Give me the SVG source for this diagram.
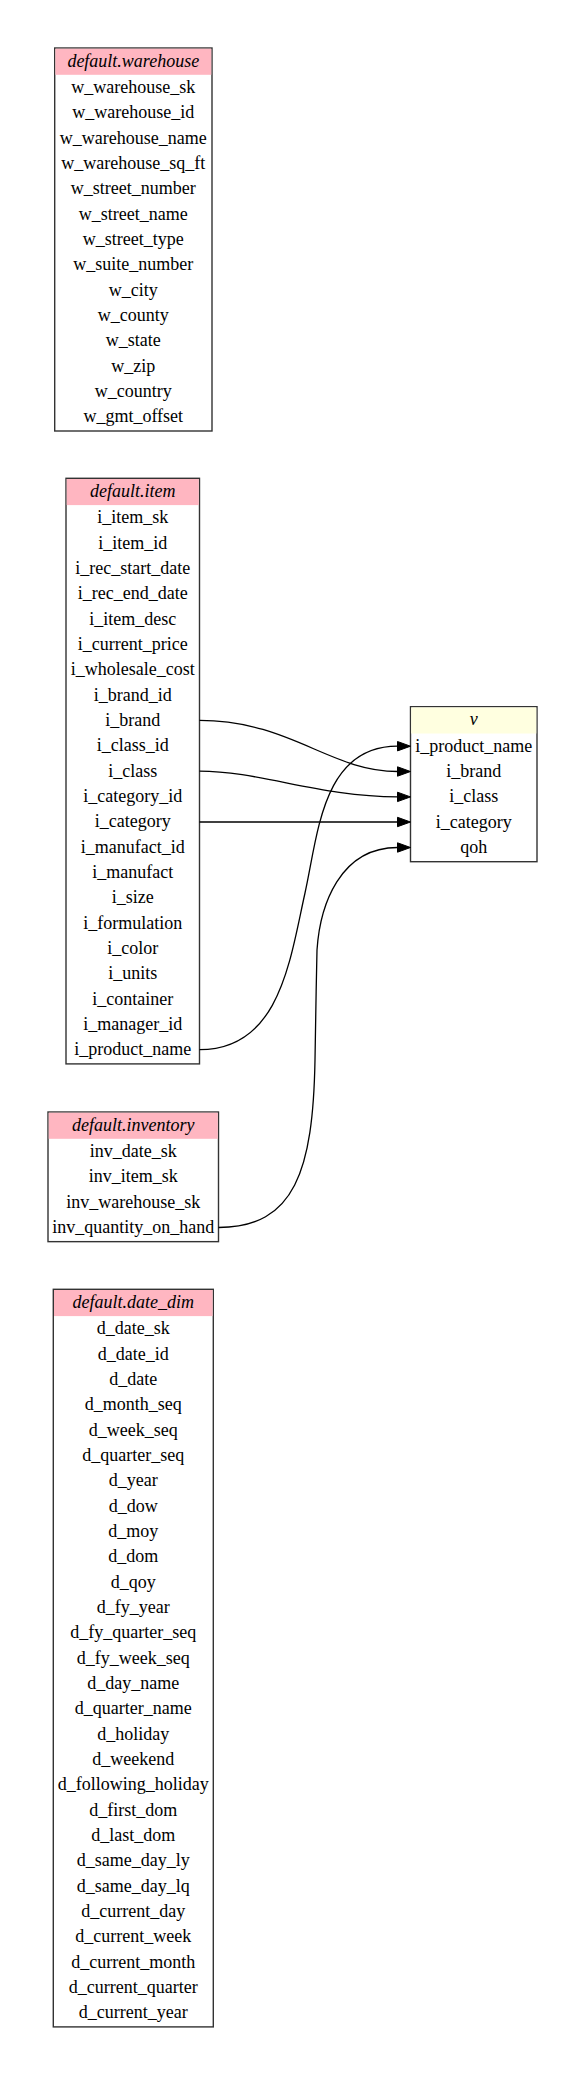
<svg xmlns="http://www.w3.org/2000/svg" width="585" height="2075" viewBox="0 0 585 2075">
<style>
.box{fill:#fff;stroke:#333;stroke-width:1.4}
.hp{fill:#ffb6c1}
.hy{fill:#ffffe0}
text{font-family:"Liberation Serif","Times New Roman",serif;font-size:18px;fill:#000;text-anchor:middle}
.t{font-style:italic}
.edge{fill:none;stroke:#000;stroke-width:1.3;marker-end:url(#ah)}
</style>
<defs>
<marker id="ah" markerUnits="userSpaceOnUse" markerWidth="14" markerHeight="11" refX="0" refY="5" orient="auto" overflow="visible">
<path d="M0,0.3 L13,5 L0,9.7 Z" fill="#000" stroke="#000" stroke-width="1"/>
</marker>
</defs>
<rect width="585" height="2075" fill="#fff"/>

<g id="warehouse">
<rect class="box" x="54.7" y="48" width="157.3" height="383"/>
<rect class="hp" x="55.4" y="48.7" width="155.9" height="26.1"/>
<text class="t" x="133.3" y="66.7">default.warehouse</text>
<text x="133.3" y="93">w_warehouse_sk</text>
<text x="133.3" y="118.3">w_warehouse_id</text>
<text x="133.3" y="143.7">w_warehouse_name</text>
<text x="133.3" y="169">w_warehouse_sq_ft</text>
<text x="133.3" y="194.3">w_street_number</text>
<text x="133.3" y="219.7">w_street_name</text>
<text x="133.3" y="245">w_street_type</text>
<text x="133.3" y="270.3">w_suite_number</text>
<text x="133.3" y="295.6">w_city</text>
<text x="133.3" y="321">w_county</text>
<text x="133.3" y="346.3">w_state</text>
<text x="133.3" y="371.6">w_zip</text>
<text x="133.3" y="397">w_country</text>
<text x="133.3" y="422.3">w_gmt_offset</text>
</g>

<g id="item">
<rect class="box" x="66" y="478.3" width="133.5" height="585.6"/>
<rect class="hp" x="66.7" y="479" width="132.1" height="26.1"/>
<text class="t" x="132.75" y="497">default.item</text>
<text x="132.75" y="523.3">i_item_sk</text>
<text x="132.75" y="548.6">i_item_id</text>
<text x="132.75" y="574">i_rec_start_date</text>
<text x="132.75" y="599.3">i_rec_end_date</text>
<text x="132.75" y="624.6">i_item_desc</text>
<text x="132.75" y="650">i_current_price</text>
<text x="132.75" y="675.3">i_wholesale_cost</text>
<text x="132.75" y="700.6">i_brand_id</text>
<text x="132.75" y="725.9">i_brand</text>
<text x="132.75" y="751.3">i_class_id</text>
<text x="132.75" y="776.6">i_class</text>
<text x="132.75" y="801.9">i_category_id</text>
<text x="132.75" y="827.3">i_category</text>
<text x="132.75" y="852.6">i_manufact_id</text>
<text x="132.75" y="877.9">i_manufact</text>
<text x="132.75" y="903.3">i_size</text>
<text x="132.75" y="928.6">i_formulation</text>
<text x="132.75" y="953.9">i_color</text>
<text x="132.75" y="979.2">i_units</text>
<text x="132.75" y="1004.6">i_container</text>
<text x="132.75" y="1029.9">i_manager_id</text>
<text x="132.75" y="1055.2">i_product_name</text>
</g>

<g id="v">
<rect class="box" x="410.5" y="706.7" width="126.5" height="155"/>
<rect class="hy" x="411.2" y="707.4" width="125.1" height="26.1"/>
<text class="t" x="473.75" y="725.4">v</text>
<text x="473.75" y="751.7">i_product_name</text>
<text x="473.75" y="777">i_brand</text>
<text x="473.75" y="802.4">i_class</text>
<text x="473.75" y="827.7">i_category</text>
<text x="473.75" y="853">qoh</text>
</g>

<g id="inventory">
<rect class="box" x="48" y="1112" width="170.5" height="129.65"/>
<rect class="hp" x="48.7" y="1112.7" width="169.1" height="26.1"/>
<text class="t" x="133.25" y="1130.7">default.inventory</text>
<text x="133.25" y="1157">inv_date_sk</text>
<text x="133.25" y="1182.3">inv_item_sk</text>
<text x="133.25" y="1207.7">inv_warehouse_sk</text>
<text x="133.25" y="1233">inv_quantity_on_hand</text>
</g>

<g id="date_dim">
<rect class="box" x="53.3" y="1289.3" width="160" height="737.6"/>
<rect class="hp" x="54" y="1290" width="158.6" height="26.1"/>
<text class="t" x="133.3" y="1308">default.date_dim</text>
<text x="133.3" y="1334.3">d_date_sk</text>
<text x="133.3" y="1359.6">d_date_id</text>
<text x="133.3" y="1385">d_date</text>
<text x="133.3" y="1410.3">d_month_seq</text>
<text x="133.3" y="1435.6">d_week_seq</text>
<text x="133.3" y="1461">d_quarter_seq</text>
<text x="133.3" y="1486.3">d_year</text>
<text x="133.3" y="1511.6">d_dow</text>
<text x="133.3" y="1536.9">d_moy</text>
<text x="133.3" y="1562.3">d_dom</text>
<text x="133.3" y="1587.6">d_qoy</text>
<text x="133.3" y="1612.9">d_fy_year</text>
<text x="133.3" y="1638.3">d_fy_quarter_seq</text>
<text x="133.3" y="1663.6">d_fy_week_seq</text>
<text x="133.3" y="1688.9">d_day_name</text>
<text x="133.3" y="1714.3">d_quarter_name</text>
<text x="133.3" y="1739.6">d_holiday</text>
<text x="133.3" y="1764.9">d_weekend</text>
<text x="133.3" y="1790.2">d_following_holiday</text>
<text x="133.3" y="1815.6">d_first_dom</text>
<text x="133.3" y="1840.9">d_last_dom</text>
<text x="133.3" y="1866.2">d_same_day_ly</text>
<text x="133.3" y="1891.6">d_same_day_lq</text>
<text x="133.3" y="1916.9">d_current_day</text>
<text x="133.3" y="1942.2">d_current_week</text>
<text x="133.3" y="1967.6">d_current_month</text>
<text x="133.3" y="1992.9">d_current_quarter</text>
<text x="133.3" y="2018.2">d_current_year</text>
</g>

<g id="connectors">
<path class="edge" d="M199.5,720.4 C290,720.4 330,771.5 397.5,771.5"/>
<path class="edge" d="M199.5,771.1 C260,771.1 320,796.9 397.5,796.9"/>
<path class="edge" d="M199.5,822 L397.5,822"/>
<path class="edge" d="M199.5,1049.7 C280,1049.7 290,960 305,893 C318,835 322,746.2 397.5,746.2"/>
<path class="edge" d="M218.5,1227.5 C295,1227.5 313,1170 315,1060 C316,1010 316,990 317,950 C320,905 340,847.5 397.5,847.5"/>
</g>
</svg>
